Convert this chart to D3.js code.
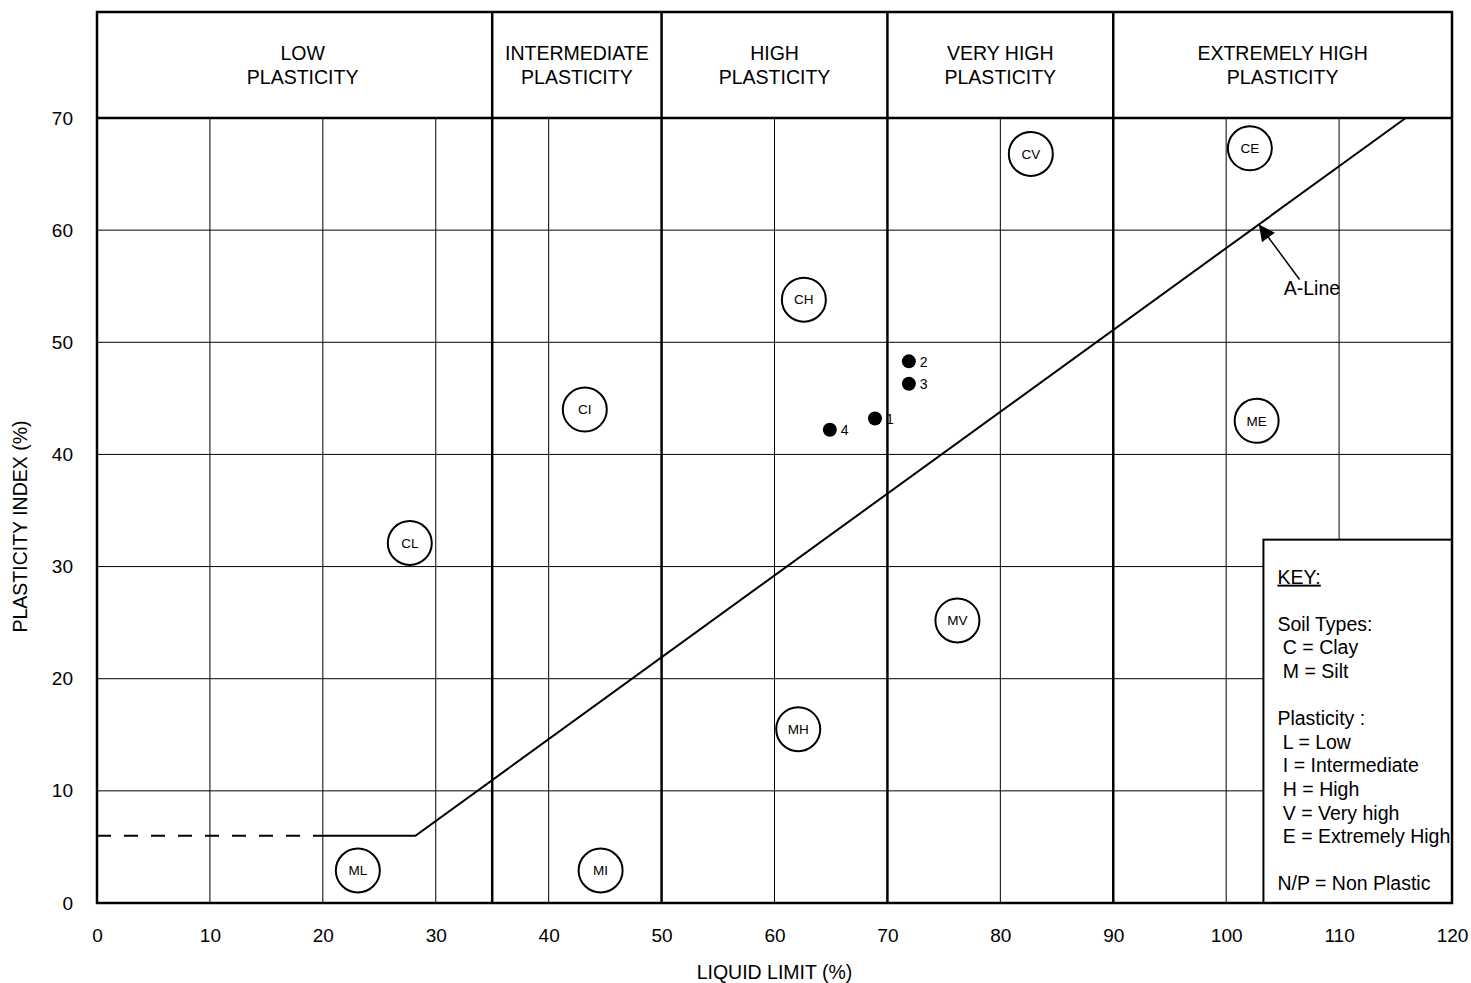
<!DOCTYPE html>
<html>
<head>
<meta charset="utf-8">
<script src="https://cdn.jsdelivr.net/npm/d3@7"></script>
<style>
  body { margin: 0; background: #fff; }
  text { font-family: "Liberation Sans", Arial, sans-serif; fill: #000; }
</style>
</head>
<body>
<script>
// plasticity zones (liquid limit boundaries) and their titles
const zoneEdges = [0, 35, 50, 70, 90, 120];
const zoneNames = [
  ['LOW', 'PLASTICITY'],
  ['INTERMEDIATE', 'PLASTICITY'],
  ['HIGH', 'PLASTICITY'],
  ['VERY HIGH', 'PLASTICITY'],
  ['EXTREMELY HIGH', 'PLASTICITY']
];

// tick labels
const xTicks = [0, 10, 20, 30, 40, 50, 60, 70, 80, 90, 100, 110, 120];
const yTicks = [0, 10, 20, 30, 40, 50, 60, 70];

// A-line: PI = 0.73 (LL - 20), flattened at PI = 6
const aLineDashed = [[0, 6], [20, 6]];
const aLineSolid = [[20, 6], [28.2, 6], [115.9, 70]];

// soil class circles
const classLabels = ['CL', 'ML', 'CI', 'MI', 'CH', 'MH', 'CV', 'MV', 'CE', 'ME'];
const classLL = [27.7, 23.1, 43.2, 44.6, 62.6, 62.1, 82.7, 76.2, 102.1, 102.7];
const classPI = [32.1, 2.9, 44.0, 2.9, 53.8, 15.5, 66.8, 25.2, 67.3, 43.0];

// test samples
const sampleIds = ['1', '2', '3', '4'];
const sampleLL = [68.9, 71.9, 71.9, 64.9];
const samplePI = [43.2, 48.3, 46.3, 42.2];

// key text
const keyLines = ['KEY:', '', 'Soil Types:', ' C = Clay', ' M = Silt', '', 'Plasticity :',
  ' L = Low', ' I = Intermediate', ' H = High', ' V = Very high', ' E = Extremely High', '', 'N/P = Non Plastic'];

const width = 1471, height = 983;
const margin = {top: 12, left: 97, right: 19, bottom: 80};
const bandH = 106;

const x = d3.scaleLinear().domain([0, 120]).range([margin.left, width - margin.right]);
const y = d3.scaleLinear().domain([0, 70]).range([height - margin.bottom, margin.top + bandH]);

const svg = d3.select('body').append('svg')
  .attr('width', width)
  .attr('height', height);

// thin grid lines
const grid = svg.append('g').attr('stroke', '#000').attr('stroke-width', 1);
grid.selectAll('line.v')
  .data(xTicks.filter(d => d > 0 && d < 120 && !zoneEdges.includes(d)))
  .join('line')
  .attr('x1', d => x(d)).attr('x2', d => x(d))
  .attr('y1', y(70)).attr('y2', y(0));
grid.selectAll('line.h')
  .data(yTicks.filter(d => d > 0 && d < 70))
  .join('line')
  .attr('x1', x(0)).attr('x2', x(120))
  .attr('y1', d => y(d)).attr('y2', d => y(d));

// A-line
const line = d3.line().x(d => x(d[0])).y(d => y(d[1]));
svg.append('path')
  .attr('d', line(aLineDashed))
  .attr('fill', 'none').attr('stroke', '#000').attr('stroke-width', 2)
  .attr('stroke-dasharray', '14,13');
svg.append('path')
  .attr('d', line(aLineSolid))
  .attr('fill', 'none').attr('stroke', '#000').attr('stroke-width', 2);

// key box (covers the grid)
const keyX = x(103.3), keyY = y(32.4);
svg.append('rect')
  .attr('x', keyX).attr('y', keyY)
  .attr('width', x(120) - keyX).attr('height', y(0) - keyY)
  .attr('fill', '#fff').attr('stroke', '#000').attr('stroke-width', 2);

const keyText = svg.append('g');
keyLines.forEach((t, i) => {
  if (!t) return;
  keyText.append('text')
    .attr('x', keyX + 14)
    .attr('y', keyY + 44 + i * 23.6)
    .attr('xml:space', 'preserve')
    .style('font-size', '19.5px')
    .style('text-decoration', i === 0 ? 'underline' : null)
    .text(t);
});

// thick zone boundaries and frame
const thick = svg.append('g').attr('stroke', '#000').attr('stroke-width', 2.5).attr('fill', 'none');
thick.selectAll('line.z')
  .data(zoneEdges.slice(1, -1))
  .join('line')
  .attr('x1', d => x(d)).attr('x2', d => x(d))
  .attr('y1', margin.top).attr('y2', y(0));
thick.append('line')
  .attr('x1', x(0)).attr('x2', x(120))
  .attr('y1', y(70)).attr('y2', y(70));
thick.append('rect')
  .attr('x', x(0)).attr('y', margin.top)
  .attr('width', x(120) - x(0)).attr('height', y(0) - margin.top);

// zone titles
zoneNames.forEach((lines, i) => {
  const cx = (x(zoneEdges[i]) + x(zoneEdges[i + 1])) / 2 + (i === 0 ? 8 : 0);
  lines.forEach((t, j) => {
    svg.append('text')
      .attr('x', cx)
      .attr('y', margin.top + 48 + j * 24)
      .attr('text-anchor', 'middle')
      .style('font-size', '19.5px')
      .text(t);
  });
});

// class circles
const classes = classLabels.map((c, i) => ({c, ll: classLL[i], pi: classPI[i]}));
const cg = svg.append('g');
cg.selectAll('circle')
  .data(classes)
  .join('circle')
  .attr('cx', d => x(d.ll)).attr('cy', d => y(d.pi))
  .attr('r', 22)
  .attr('fill', '#fff').attr('stroke', '#000').attr('stroke-width', 2);
cg.selectAll('text')
  .data(classes)
  .join('text')
  .attr('x', d => x(d.ll)).attr('y', d => y(d.pi))
  .attr('dy', '0.35em')
  .attr('text-anchor', 'middle')
  .style('font-size', '13.5px')
  .text(d => d.c);

// samples
const samples = sampleIds.map((id, i) => ({id, ll: sampleLL[i], pi: samplePI[i]}));
const sg = svg.append('g');
sg.selectAll('circle')
  .data(samples)
  .join('circle')
  .attr('cx', d => x(d.ll)).attr('cy', d => y(d.pi))
  .attr('r', 7).attr('fill', '#000');
sg.selectAll('text')
  .data(samples)
  .join('text')
  .attr('x', d => x(d.ll) + 11).attr('y', d => y(d.pi))
  .attr('dy', '0.4em')
  .style('font-size', '14px')
  .text(d => d.id);

// A-line annotation
svg.append('defs').append('marker')
  .attr('id', 'arrow')
  .attr('viewBox', '0 0 10 10')
  .attr('refX', 10).attr('refY', 5)
  .attr('markerWidth', 22).attr('markerHeight', 16)
  .attr('markerUnits', 'userSpaceOnUse')
  .attr('orient', 'auto')
  .append('path').attr('d', 'M0,0 L10,5 L0,10 z').attr('fill', '#000');
svg.append('line')
  .attr('x1', x(106.5)).attr('y1', y(55.6))
  .attr('x2', x(102.9)).attr('y2', y(60.5))
  .attr('stroke', '#000').attr('stroke-width', 1.5)
  .attr('marker-end', 'url(#arrow)');
svg.append('text')
  .attr('x', x(105.1)).attr('y', y(54.2))
  .style('font-size', '19.5px')
  .text('A-Line');

// axes
const xAxis = d3.axisBottom(x).tickValues(xTicks).tickSize(0).tickPadding(26);
svg.append('g')
  .attr('transform', `translate(0,${y(0)})`)
  .call(xAxis)
  .call(g => g.select('.domain').remove())
  .selectAll('text')
  .style('font-size', '19px')
  .style('font-family', '"Liberation Sans", Arial, sans-serif');

const yAxis = d3.axisLeft(y).tickValues(yTicks).tickSize(0).tickPadding(24);
svg.append('g')
  .attr('transform', `translate(${x(0)},0)`)
  .call(yAxis)
  .call(g => g.select('.domain').remove())
  .selectAll('text')
  .style('font-size', '19px')
  .style('font-family', '"Liberation Sans", Arial, sans-serif');

// axis titles
svg.append('text')
  .attr('x', x(60)).attr('y', 979)
  .attr('text-anchor', 'middle')
  .style('font-size', '19.5px')
  .text('LIQUID LIMIT (%)');
svg.append('text')
  .attr('transform', `translate(27,${(y(0) + y(70)) / 2 + 16}) rotate(-90)`)
  .attr('text-anchor', 'middle')
  .style('font-size', '19.5px')
  .text('PLASTICITY INDEX (%)');
</script>
</body>
</html>
